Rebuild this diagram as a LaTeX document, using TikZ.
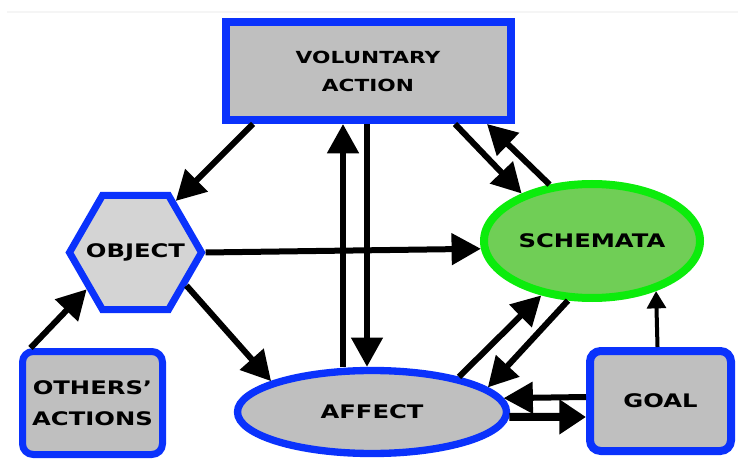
\documentclass[tikz,border=0pt]{standalone}
\usepackage{fontspec}
\usepackage{tikz}
\usetikzlibrary{shapes.geometric,arrows.meta,calc}
\newfontfamily\labelfont[FakeStretch=1.3]{DejaVu Sans}
\definecolor{nodeblue}{RGB}{10,50,252}
\definecolor{nodegray}{RGB}{191,191,191}
\definecolor{objgray}{RGB}{212,212,212}
\definecolor{schemafill}{RGB}{112,206,86}
\definecolor{schemaline}{RGB}{12,236,12}

\begin{document}
\begin{tikzpicture}[x=0.75pt,y=-0.75pt]
  \tikzset{BoxStyle/.style = {
    shape         = rectangle,
    draw          = nodeblue,
    fill          = nodegray,
    line width    = 6pt,
    text          = black,
    inner sep     = 0pt,
    align         = center,
    font          = \labelfont\bfseries\fontsize{14}{23}\selectfont
    }
  }
  \tikzset{RoundBoxStyle/.style = {
    BoxStyle,
    rounded corners = 8pt
    }
  }
  \tikzset{EllipseStyle/.style = {
    BoxStyle,
    shape         = ellipse,
    line width    = 5.5pt
    }
  }
  \tikzset{HexStyle/.style = {
    BoxStyle,
    shape         = regular polygon,
    regular polygon sides = 6,
    fill          = objgray,
    line width    = 5.25pt
    }
  }
  \tikzset{EdgeStyle/.style = {
    draw          = black,
    line width    = 4.5pt,
    -{Triangle[length=22pt,width=23pt]}
    }
  }
  \tikzset{ThinEdgeStyle/.style = {
    draw          = black,
    line width    = 3pt,
    -{Triangle[length=13pt,width=14pt]}
    }
  }
  \tikzset{ThickEdgeStyle/.style = {
    draw          = black,
    line width    = 6pt,
    -{Triangle[length=20pt,width=25pt]}
    }
  }

  \useasboundingbox (0,0) rectangle (738,459);
  \draw[line width=1.5pt, black!4] (7,12) -- (738,12);

  \node[BoxStyle, minimum width=213.75pt, minimum height=73.5pt,
    font=\labelfont\bfseries\fontsize{12.5}{21}\selectfont] (VA) at (368,71) {VOLUNTARY\\ACTION};
  \node[HexStyle, minimum size=99pt] (OB) at (135.5,252.5) {\makebox[0pt]{OBJECT}};
  \node[EllipseStyle, fill=schemafill, draw=schemaline, line width=6pt,
    minimum width=162pt, minimum height=85.5pt] (SC) at (592,241) {SCHEMATA};
  \node[RoundBoxStyle, line width=5.25pt, minimum width=105pt, minimum height=77.25pt] (OA) at (92.5,403) {OTHERS’\\ACTIONS};
  \node[EllipseStyle, minimum width=201.75pt, minimum height=62.25pt] (AF) at (372,412) {AFFECT};
  \node[RoundBoxStyle, minimum width=105.75pt, minimum height=75pt] (GO) at (660.5,401) {GOAL};

  \draw[EdgeStyle] ($(VA.south)+(-115,0)$) -- (OB.52);
  \draw[EdgeStyle] ($(AF.north)+(-29,0)$) -- ($(VA.south)+(-25,0)$);
  \draw[EdgeStyle] ($(VA.south)+(-1,0)$) -- ($(AF.north)+(-5,0)$);
  \draw[EdgeStyle] ($(VA.south)+(87,0)$) -- (SC.146);
  \draw[EdgeStyle] (SC.127) -- ($(VA.south)+(119,0)$);
  \draw[EdgeStyle] (OB.east) -- (SC.184);
  \draw[EdgeStyle] (OB.327) -- (AF.163);
  \draw[EdgeStyle] ($(OA.north)+(-62,0)$) -- (OB.217);
  \draw[EdgeStyle] (AF.22) -- (SC.227);
  \draw[EdgeStyle] (SC.248) -- (AF.12);
  \draw[EdgeStyle] ($(GO.west)+(0,-4)$) -- (AF.6);
  \draw[ThickEdgeStyle] (AF.358) -- ($(GO.west)+(0,16)$);
  \draw[ThinEdgeStyle] ($(GO.north)+(-3,0)$) -- (SC.322);

\end{tikzpicture}
\end{document}
